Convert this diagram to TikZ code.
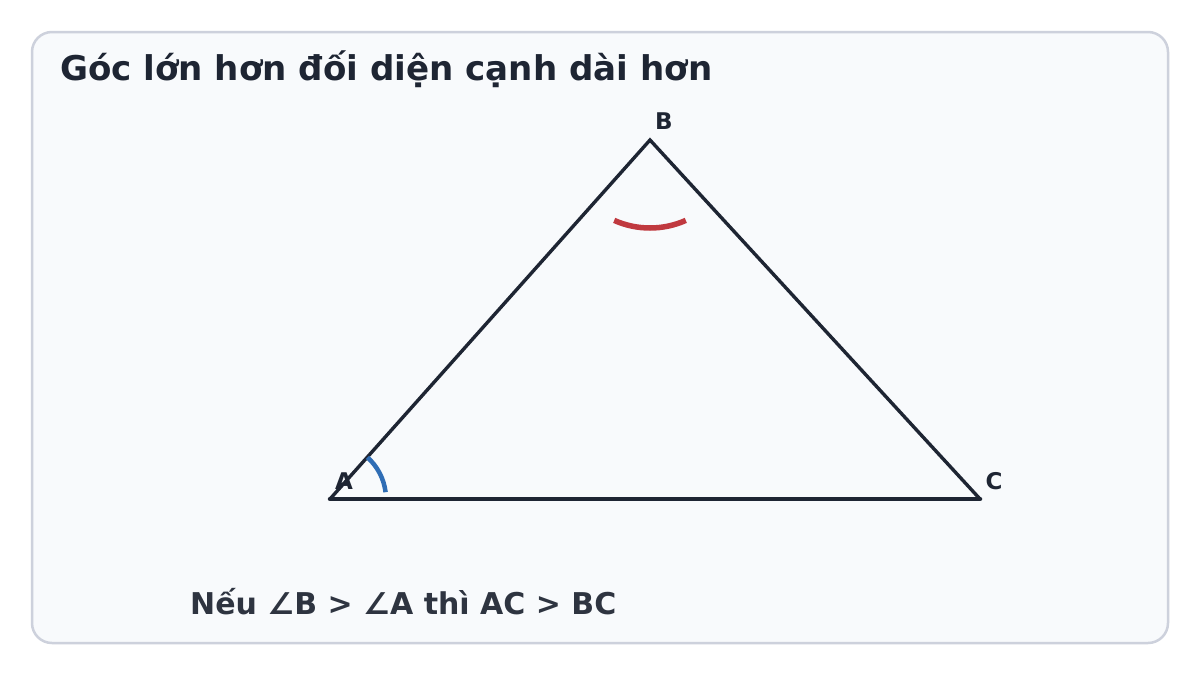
\documentclass[tikz,border=0pt]{standalone}
\usepackage{fontspec}
\usetikzlibrary{calc}
\setmainfont{DejaVu Sans}
\definecolor{ink}{HTML}{1E2533}
\definecolor{textgray}{HTML}{2E3440}
\definecolor{frame}{HTML}{CDD1DC}
\definecolor{panel}{HTML}{F8FAFC}
\definecolor{arcblue}{HTML}{2F6DB5}
\definecolor{arcred}{HTML}{C0393F}
\begin{document}
\begin{tikzpicture}[x=1pt,y=-1pt,
  vlabel/.style={inner sep=0pt,anchor=base,text=ink,font=\fontsize{23}{27}\selectfont\bfseries},
  side/.style={draw=ink,line width=3.4pt,line cap=round},
]
\useasboundingbox (0,0) rectangle (1200,675);
\fill[white] (0,0) rectangle (1200,675);
\draw[draw=frame,fill=panel,line width=2.5pt,rounded corners=20pt] (32,32) rectangle (1168,643);
\node[inner sep=0pt,anchor=base west,text=ink,font=\fontsize{34.1}{40}\selectfont\bfseries] (title) at (60,80) {Góc lớn hơn đối diện cạnh dài hơn};
\coordinate (A) at (330,499);
\coordinate (B) at (650,140);
\coordinate (C) at (980,499);
\draw[side] (A) -- (B) -- (C);
\draw[side,line width=4.5pt] (A) -- (C);
\draw[arcblue,line width=4.5pt] ($(A)+(-7:56)$) arc[start angle=-7,end angle=-48,radius=56];
\draw[arcred,line width=5.5pt] ($(B)+(114:88)$) arc[start angle=114,end angle=66,radius=88];
\node[vlabel] (lA) at (344,489) {A};
\node[vlabel] (lB) at (664,129) {B};
\node[vlabel] (lC) at (994,489) {C};
\node[inner sep=0pt,anchor=base west,text=textgray,font=\fontsize{30}{36}\selectfont\bfseries] (concl) at (190,614) {Nếu ∠B > ∠A thì AC > BC};
\end{tikzpicture}
\end{document}
